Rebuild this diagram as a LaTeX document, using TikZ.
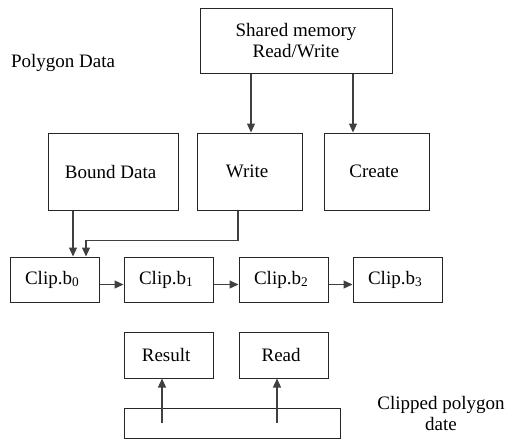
\documentclass[tikz,border=0pt]{standalone}
\usepackage{fontspec}
\setmainfont{Liberation Serif}
\usetikzlibrary{arrows.meta,positioning}

\begin{document}
\begin{tikzpicture}[x=1pt,y=-1pt,
box/.style={rectangle,draw=black!85,line width=1pt,align=center,inner sep=2pt},
flow/.style={-{Triangle[length=9pt,width=8pt]},draw=black!75,line width=1.2pt}]
\tikzstyle{every node}=[font=\fontsize{19}{21}\selectfont]

\useasboundingbox (0,0) rectangle (517,440);

% top
\node[box, minimum width=192pt, minimum height=65pt] at (296, 40.5) (shared) {
Shared memory\\
Read/Write
};

\node[align=center] at (63, 63) (polydata) {Polygon Data};

% second row
\node[box, minimum width=130pt, minimum height=77pt] at (113, 171.5) (bound) {
Bound Data
};

\node[box, minimum width=105pt, minimum height=77pt] at (249.5, 171.5) (write) {
Write
};

\node[box, minimum width=105pt, minimum height=77pt] at (376.5, 171.5) (create) {
Create
};

% clip row
\node[box, minimum width=89pt, minimum height=45pt] at (54.5, 279.5) (clip0) {
Clip.b\textsubscript{0}
};

\node[box, minimum width=89pt, minimum height=45pt] at (168.5, 279.5) (clip1) {
Clip.b\textsubscript{1}
};

\node[box, minimum width=89pt, minimum height=45pt] at (283.5, 279.5) (clip2) {
Clip.b\textsubscript{2}
};

\node[box, minimum width=89pt, minimum height=45pt] at (397.5, 279.5) (clip3) {
Clip.b\textsubscript{3}
};

% bottom
\node[box, minimum width=89pt, minimum height=46pt] at (168.5, 355) (result) {
Result
};

\node[box, minimum width=89pt, minimum height=46pt] at (283.5, 355) (read) {
Read
};

\node[box, minimum width=216pt, minimum height=30pt] at (232, 423) (clipped) {};

\node[align=center] at (441, 413) (clippedtxt) {
Clipped polygon\\
date
};


\draw[flow] ([xshift=-45pt]shared.south) -- ([xshift=1.5pt]write.north);
\draw[flow] ([xshift=57pt]shared.south) -- ([xshift=-23.5pt]create.north);

\draw[flow] ([xshift=-40pt]bound.south) -- ([xshift=18.5pt]clip0.north);
\draw[flow] ([xshift=-11.5pt]write.south) -- ++(0,30) -| ([xshift=31.5pt]clip0.north);

\draw[flow] ([yshift=-5pt]clip0.east) -- ([yshift=-5pt]clip1.west);
\draw[flow] ([yshift=-5pt]clip1.east) -- ([yshift=-5pt]clip2.west);
\draw[flow] ([yshift=-5pt]clip2.east) -- ([yshift=-5pt]clip3.west);

\draw[flow] ([xshift=-70pt]clipped.center) -- ([xshift=-6.5pt]result.south);
\draw[flow] ([xshift=45pt]clipped.center) -- ([xshift=-6.5pt]read.south);

\end{tikzpicture}
\end{document}
